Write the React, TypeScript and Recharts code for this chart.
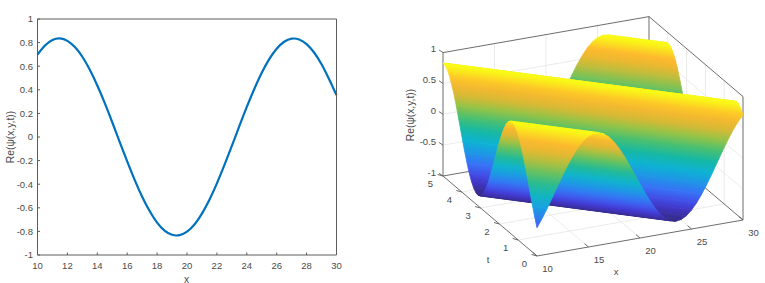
import { LineChart, Line, XAxis, YAxis, ScatterChart, Scatter } from 'recharts'

const FONT = '"Liberation Sans", Arial, sans-serif'
const TEXT = '#4a4a4a'
const AXIS = '#5c5c5c'
const GRID = '#e6e6e6'

// left panel: slice through the wave
const sliceX = [
  10, 10.5, 11, 11.5, 12, 12.5, 13, 13.5, 14, 14.5, 15, 15.5, 16, 16.5, 17, 17.5, 18, 18.5, 19, 19.5, 20,
  20.5, 21, 21.5, 22, 22.5, 23, 23.5, 24, 24.5, 25, 25.5, 26, 26.5, 27, 27.5, 28, 28.5, 29, 29.5, 30,
]
const sliceRe = [
  0.698, 0.775, 0.822, 0.835, 0.815, 0.762, 0.68, 0.569, 0.436, 0.287, 0.125, -0.043, -0.206, -0.363, -0.506,
  -0.627, -0.725, -0.793, -0.829, -0.832, -0.802, -0.741, -0.649, -0.532, -0.393, -0.239, -0.076, 0.092, 0.255,
  0.407, 0.544, 0.66, 0.748, 0.807, 0.833, 0.827, 0.787, 0.716, 0.616, 0.492, 0.355,
]
const sliceXTicks = [10, 12, 14, 16, 18, 20, 22, 24, 26, 28, 30]
const sliceYTicks = [-1, -0.8, -0.6, -0.4, -0.2, 0, 0.2, 0.4, 0.6, 0.8, 1]

// right panel: height of the surface along its crests, read going across them (phase = x + speed * t)
const phases = [
  10, 10.5, 11, 11.5, 12, 12.5, 13, 13.5, 14, 14.5, 15, 15.5, 16, 16.5, 17, 17.5, 18, 18.5, 19, 19.5, 20, 20.5,
  21, 21.5, 22, 22.5, 23, 23.5, 24, 24.5, 25, 25.5, 26, 26.5, 27, 27.5, 28, 28.5, 29, 29.5, 30, 30.5, 31, 31.5,
  32, 32.5, 33, 33.5, 34, 34.5, 35, 35.5, 36, 36.5, 37, 37.5, 38, 38.5, 39, 39.5, 40, 40.5, 41, 41.5, 42, 42.5,
  43, 43.5, 44, 44.5, 45, 45.5, 46, 46.5, 47, 47.5, 48, 48.5, 49, 49.5, 50, 50.5, 51, 51.5,
]
const heights = [
  -0.541, -0.405, -0.254, -0.091, 0.075, 0.237, 0.391, 0.529, 0.645, 0.736, 0.798, 0.827, 0.824, 0.788, 0.72,
  0.623, 0.503, 0.361, 0.205, 0.042, -0.124, -0.285, -0.433, -0.566, -0.676, -0.758, -0.81, -0.83, -0.817, -0.77,
  -0.694, -0.59, -0.461, -0.316, -0.157, 0.008, 0.173, 0.331, 0.476, 0.601, 0.703, 0.777, 0.819, 0.829, 0.806,
  0.751, 0.666, 0.554, 0.42, 0.269, 0.109, -0.058, -0.222, -0.375, -0.515, -0.635, -0.728, -0.793, -0.826, -0.826,
  -0.793, -0.729, -0.635, -0.517, -0.377, -0.222, -0.059, 0.107, 0.267, 0.418, 0.553, 0.665, 0.75, 0.806, 0.829,
  0.82, 0.778, 0.704, 0.603, 0.477, 0.334, 0.175, 0.012, -0.154,
]
const speed = 4.3

const xTicks3d = [10, 15, 20, 25, 30]
const tTicks3d = [0, 1, 2, 3, 4, 5]
const zTicks3d = [-1, -0.5, 0, 0.5, 1]

const parula = [
  [53, 42, 135], [68, 58, 215], [61, 105, 250], [33, 145, 233], [14, 178, 215], [20, 184, 167],
  [70, 192, 115], [150, 195, 70], [226, 183, 50], [254, 186, 45], [249, 251, 21],
]

const colorOf = (z: number) => {
  const f = Math.max(0, Math.min(1, (z + 0.83) / 1.66)) * (parula.length - 1)
  const i = Math.min(parula.length - 2, Math.floor(f))
  const c = parula[i].map((v, k) => Math.round(v + (parula[i + 1][k] - v) * (f - i)))
  return `rgb(${c[0]},${c[1]},${c[2]})`
}

// view of the 3d box, in panel units
const project = (x: number, t: number, z: number) => ({
  h: 137 + (x - 10) * 10.3 - t * 18.8,
  v: 256 - (x - 10) * 1.8 - t * 16 - (z + 1) * 61.7,
})

const sliceData = sliceX.map((x, i) => ({ x, re: sliceRe[i] }))

const crestLine = (u: number, z: number) => {
  const near = u <= 30 ? project(u, 0, z) : project(30, (u - 30) / speed, z)
  const far = u <= 31.5 ? project(10, (u - 10) / speed, z) : project(u - 5 * speed, 5, z)
  return [near, far]
}

const ribbons = phases.slice(0, -1).map((u, i) => {
  const a = crestLine(u, heights[i])
  const b = crestLine(phases[i + 1], heights[i + 1])
  return { id: `r${i}`, lo: heights[i], hi: heights[i + 1], pts: [a[0], a[1], b[1], b[0]] }
}).reverse()

const seg = (a: number[], b: number[]) => [project(a[0], a[1], a[2]), project(b[0], b[1], b[2])]

const gridSegs = [
  ...xTicks3d.slice(1, -1).flatMap((x) => [seg([x, 0, -1], [x, 5, -1]), seg([x, 5, -1], [x, 5, 1])]),
  ...tTicks3d.slice(1, -1).flatMap((t) => [seg([10, t, -1], [30, t, -1]), seg([30, t, -1], [30, t, 1])]),
  ...zTicks3d.slice(1, -1).flatMap((z) => [seg([10, 5, z], [30, 5, z]), seg([30, 5, z], [30, 0, z])]),
]

const boxSegs = [
  seg([10, 5, -1], [10, 5, 1]),
  seg([10, 5, 1], [30, 5, 1]),
  seg([30, 5, 1], [30, 5, -1]),
  seg([30, 5, 1], [30, 0, 1]),
  seg([30, 0, 1], [30, 0, -1]),
  seg([10, 0, -1], [30, 0, -1]),
  seg([10, 0, -1], [10, 5, -1]),
  seg([10, 5, -1], [30, 5, -1]),
  seg([30, 5, -1], [30, 0, -1]),
]

const tickSegs = [
  ...zTicks3d.map((z) => {
    const p = project(10, 5, z)
    return [p, { h: p.h - 4, v: p.v - 2.7 }]
  }),
  ...tTicks3d.map((t) => {
    const p = project(10, t, -1)
    return [p, { h: p.h - 5.5, v: p.v - 1.5 }]
  }),
  ...xTicks3d.map((x) => {
    const p = project(x, 0, -1)
    return [p, { h: p.h - 4, v: p.v - 3.4 }]
  }),
]

const labels3d = [
  ...zTicks3d.map((z) => {
    const p = project(10, 5, z)
    return { h: p.h - 7, v: p.v - 3.7, text: String(z), anchor: 'end', rotate: 0 }
  }),
  ...tTicks3d.map((t) => {
    const p = project(10, t, -1)
    return { h: p.h - 12.5, v: p.v + 7.8, text: String(t), anchor: 'middle', rotate: 0 }
  }),
  ...xTicks3d.map((x) => {
    const p = project(x, 0, -1)
    return { h: p.h + 10.5, v: p.v + 12.3, text: String(x), anchor: 'middle', rotate: 0 }
  }),
  { h: 88, v: 259, text: 't', anchor: 'middle', rotate: 0 },
  { h: 216, v: 271, text: 'x', anchor: 'middle', rotate: 0 },
  { h: 10, v: 115, text: 'Re(ψ(x,y,t))', anchor: 'middle', rotate: -90 },
]

const noDot = () => <g />

const Label3d = (props: any) => {
  const { cx, cy, payload } = props
  return (
    <text
      x={cx}
      y={cy}
      textAnchor={payload.anchor}
      dominantBaseline="central"
      fontFamily={FONT}
      fontSize={payload.rotate ? 10.3 : 9.5}
      fill={TEXT}
      transform={payload.rotate ? `rotate(${payload.rotate} ${cx} ${cy})` : undefined}
    >
      {payload.text}
    </text>
  )
}

const ribbonShape = (r: { id: string; lo: number; hi: number }) => (props: any) => {
  const p = props.points
  const first = Math.hypot(p[1].x - p[0].x, p[1].y - p[0].y)
  const second = Math.hypot(p[2].x - p[3].x, p[2].y - p[3].y)
  const ex = first > second ? p[1].x - p[0].x : p[2].x - p[3].x
  const ey = first > second ? p[1].y - p[0].y : p[2].y - p[3].y
  const len = Math.max(first, second) || 1
  const ax = p[3].x - p[0].x
  const ay = p[3].y - p[0].y
  const along = (ax * ex + ay * ey) / (len * len)
  const d = p.map((q: any, i: number) => `${i ? 'L' : 'M'}${q.x} ${q.y}`).join('') + 'Z'
  return (
    <g>
      <defs>
        <linearGradient
          id={r.id}
          gradientUnits="userSpaceOnUse"
          x1={p[0].x}
          y1={p[0].y}
          x2={p[0].x + ax - along * ex}
          y2={p[0].y + ay - along * ey}
        >
          <stop offset="0" stopColor={colorOf(r.lo)} />
          <stop offset="1" stopColor={colorOf(r.hi)} />
        </linearGradient>
      </defs>
      <path d={d} fill={`url(#${r.id})`} stroke={`url(#${r.id})`} strokeWidth={0.8} />
    </g>
  )
}

function SliceChart() {
  const tickStyle = { fontFamily: FONT, fontSize: 9.5, fill: TEXT }
  return (
    <LineChart
      width={350}
      height={283}
      data={sliceData}
      margin={{ top: 18, left: 36.5, right: 12.5, bottom: 27 }}
    >
      <XAxis
        xAxisId="b"
        dataKey="x"
        type="number"
        domain={[10, 30]}
        ticks={sliceXTicks}
        interval={0}
        height={1}
        tickSize={-2.5}
        tickMargin={10}
        tick={tickStyle}
        stroke={AXIS}
        label={{
          content: () => (
            <text x={186.5} y={279} textAnchor="middle" dominantBaseline="central" fontFamily={FONT} fontSize={10.3} fill={TEXT}>
              x
            </text>
          ),
        }}
      />
      <XAxis
        xAxisId="t"
        orientation="top"
        dataKey="x"
        type="number"
        domain={[10, 30]}
        ticks={sliceXTicks}
        interval={0}
        height={1}
        tickSize={-2.5}
        tick={false}
        stroke={AXIS}
      />
      <YAxis
        yAxisId="l"
        type="number"
        domain={[-1, 1]}
        ticks={sliceYTicks}
        interval={0}
        width={1}
        tickSize={-2.5}
        tickMargin={7}
        tick={tickStyle}
        stroke={AXIS}
        label={{
          content: () => (
            <text
              x={10}
              y={137}
              textAnchor="middle"
              dominantBaseline="central"
              fontFamily={FONT}
              fontSize={10.3}
              fill={TEXT}
              transform="rotate(-90 10 137)"
            >
              Re(ψ(x,y,t))
            </text>
          ),
        }}
      />
      <YAxis
        yAxisId="r"
        orientation="right"
        type="number"
        domain={[-1, 1]}
        ticks={sliceYTicks}
        interval={0}
        width={1}
        tickSize={-2.5}
        tick={false}
        stroke={AXIS}
      />
      <Line
        xAxisId="b"
        yAxisId="l"
        type="natural"
        dataKey="re"
        stroke="#0072BD"
        strokeWidth={2.2}
        dot={false}
        isAnimationActive={false}
      />
    </LineChart>
  )
}

function SurfaceChart() {
  return (
    <ScatterChart width={365} height={283} margin={{ top: 0, left: 0, right: 0, bottom: 0 }}>
      <XAxis type="number" dataKey="h" domain={[0, 365]} allowDataOverflow hide />
      <YAxis type="number" dataKey="v" domain={[0, 283]} allowDataOverflow reversed hide />
      {gridSegs.map((s, i) => (
        <Scatter key={`g${i}`} data={s} shape={noDot} line={{ stroke: GRID, strokeWidth: 0.8 }} isAnimationActive={false} />
      ))}
      {boxSegs.map((s, i) => (
        <Scatter key={`b${i}`} data={s} shape={noDot} line={{ stroke: AXIS, strokeWidth: 0.9 }} isAnimationActive={false} />
      ))}
      {tickSegs.map((s, i) => (
        <Scatter key={`k${i}`} data={s} shape={noDot} line={{ stroke: AXIS, strokeWidth: 0.9 }} isAnimationActive={false} />
      ))}
      {ribbons.map((r) => (
        <Scatter key={r.id} data={r.pts} shape={noDot} line={ribbonShape(r)} isAnimationActive={false} />
      ))}
      <Scatter data={labels3d} shape={Label3d} isAnimationActive={false} />
    </ScatterChart>
  )
}

export default function App() {
  return (
    <div style={{ position: 'absolute', left: 0, top: 0, width: 765, height: 283, background: '#fff', overflow: 'hidden' }}>
      <div style={{ position: 'absolute', left: 0, top: 0 }}>
        <SliceChart />
      </div>
      <div style={{ position: 'absolute', left: 400, top: 0 }}>
        <SurfaceChart />
      </div>
    </div>
  )
}
